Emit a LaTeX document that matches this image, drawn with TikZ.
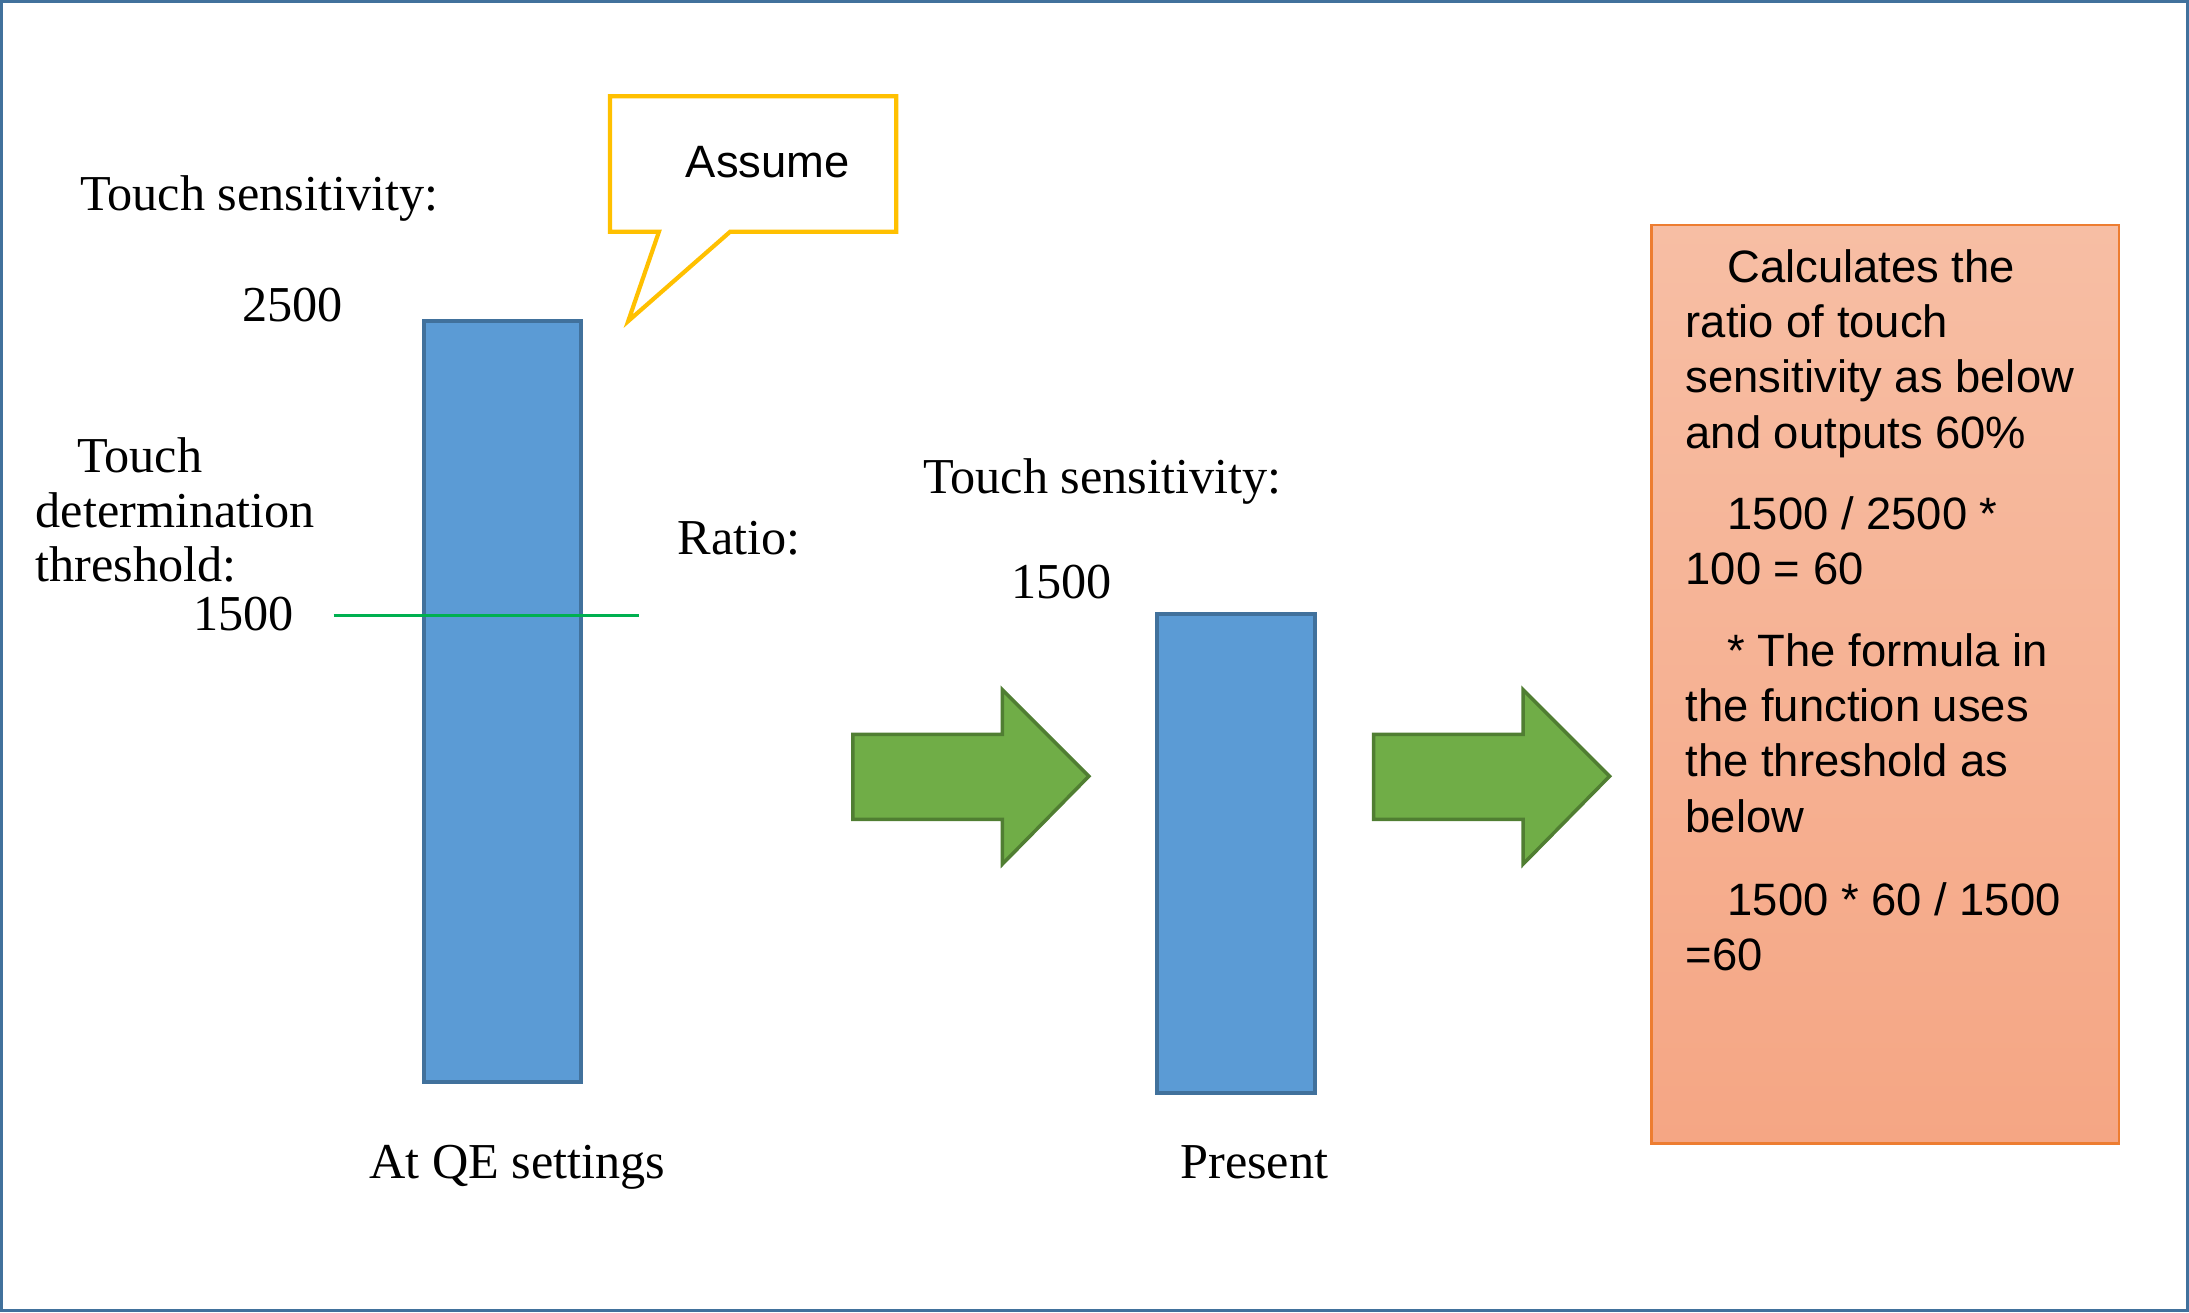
\documentclass[tikz,border=0pt]{standalone}
\usepackage{fontspec}
\setmainfont{Liberation Serif}
\newfontfamily\sansf{Liberation Sans}
\definecolor{barfill}{RGB}{91,155,213}
\definecolor{barline}{RGB}{65,113,156}
\definecolor{arrfill}{RGB}{112,173,71}
\definecolor{arrline}{RGB}{80,126,50}
\definecolor{callline}{RGB}{255,192,0}
\definecolor{boxline}{RGB}{237,125,49}
\definecolor{boxtop}{RGB}{247,190,164}
\definecolor{boxbot}{RGB}{245,166,132}
\definecolor{thrline}{RGB}{0,176,80}
\tikzset{
  serif/.style={font=\fontsize{14.4}{15.6}\selectfont, inner sep=0pt, anchor=base west},
  sanstxt/.style={font=\sansf\fontsize{13}{15.8}\selectfont, inner sep=0pt, anchor=base west, align=left},
  barbox/.style={draw=barline, fill=barfill, line width=1.2pt},
  bigarrow/.style={draw=arrline, fill=arrfill, line width=1pt, line join=miter},
  callbox/.style={draw=callline, fill=white, line width=1.2pt, line join=miter},
}
\begin{document}
\begin{tikzpicture}[x=0.4pt,y=-0.4pt]
\useasboundingbox (0,0) rectangle (1568,940);
\draw[barline, line width=0.9pt] (1,1) rectangle (1567,939);

% left bar
\draw[barbox] (304,230) rectangle (416,775);
% threshold line
\coordinate (thrA) at (239,441);
\coordinate (thrB) at (458,441);
\draw[thrline, line width=0.7pt] (thrA) -- (thrB);

% callout
\draw[callbox] (437,69) -- (642,69) -- (642,166) -- (523,166) -- (450,230) -- (472,166) -- (437,166) -- cycle;
\node[font=\sansf\fontsize{13}{15.8}\selectfont, inner sep=0pt] (assume) at (550,116) {Assume};

% left texts
\node[serif] (ts1) at (57,150.5) {Touch sensitivity:};
\node[serif] (v2500) at (173,230.5) {2500};
\node[serif] (tdt1) at (55,338.5) {Touch};
\node[serif] (tdt2) at (25,377.5) {determination};
\node[serif] (tdt3) at (25,416.5) {threshold:};
\node[serif] (v1500a) at (138,451.5) {1500};
\node[serif] (ratio) at (485,397.5) {Ratio:};
\node[serif] (qe) at (264,844.5) {At QE settings};

% first arrow
\draw[bigarrow] (611,526) -- (718,526) -- (718,494) -- (780,556) -- (718,619) -- (718,587) -- (611,587) -- cycle;

% middle
\node[serif] (ts2) at (661,353.5) {Touch sensitivity:};
\node[serif] (v1500b) at (724,428.5) {1500};
\draw[barbox] (829,440) rectangle (942,783);
\node[serif] (present) at (845,844.5) {Present};

% second arrow
\draw[bigarrow] (984,526) -- (1091,526) -- (1091,494) -- (1153,556) -- (1091,619) -- (1091,587) -- (984,587) -- cycle;

% right box
\shade[top color=boxtop, bottom color=boxbot] (1183,161) rectangle (1518,819);
\draw[boxline, line width=0.7pt] (1183,161) rectangle (1518,819);
\node[sanstxt] (p1) at (1207,321) {\hspace*{12pt}Calculates the\\ratio of touch\\sensitivity as below\\and outputs 60\%};
\node[sanstxt] (p2) at (1207,419) {\hspace*{12pt}1500 / 2500 *\\100 = 60};
\node[sanstxt] (p3) at (1207,596) {\hspace*{12pt}* The formula in\\the function uses\\the threshold as\\below};
\node[sanstxt] (p4) at (1207,695) {\hspace*{12pt}1500 * 60 / 1500\\=60};
\end{tikzpicture}
\end{document}
